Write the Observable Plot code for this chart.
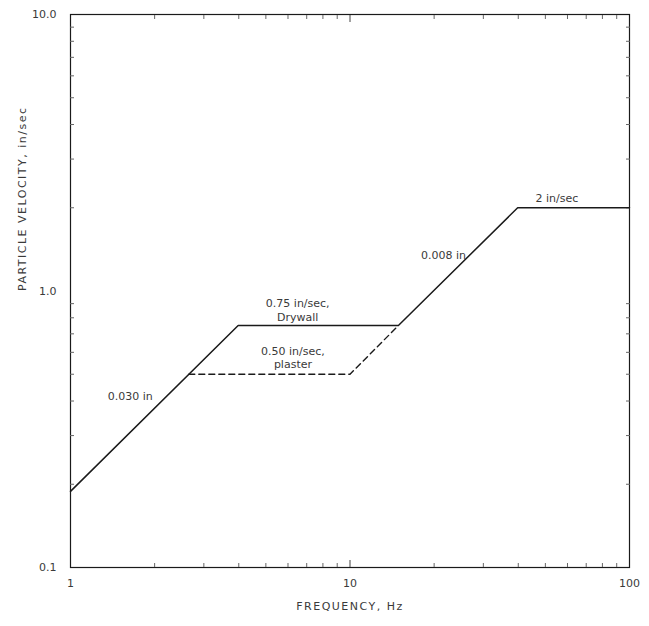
<!DOCTYPE html>
<html><head><meta charset="utf-8">
<script src="https://cdn.jsdelivr.net/npm/d3@7"></script>
<script src="https://cdn.jsdelivr.net/npm/@observablehq/plot@0.6"></script>
<style>body{margin:0;background:#fff;}</style>
</head><body><div id="chart"></div>
<script>
// Drywall criterion (solid): 0.030 in displacement, 0.75 in/sec, 0.008 in displacement, 2 in/sec
const drywallFreq = [1, 3.98, 14.9, 39.8, 100];
const drywallVel  = [0.1885, 0.75, 0.75, 2.0, 2.0];
// Plaster criterion (dashed)
const plasterFreq = [2.65, 10, 14.9];
const plasterVel  = [0.5, 0.5, 0.75];
// Annotations
const labelText = ["0.030 in", "0.75 in/sec,", "Drywall", "0.50 in/sec,", "plaster", "0.008 in", "2 in/sec"];
const labelFreq = [1.97, 6.5, 6.5, 6.25, 6.25, 26, 55];
const labelVel  = [0.415, 0.90, 0.80, 0.604, 0.542, 1.344, 2.16];
const labelAnchor = ["end", "middle", "middle", "middle", "middle", "end", "middle"];
// Axes
const xTicks = [1, 10, 100];
const xTickLabels = ["1", "10", "100"];
const yTicks = [0.1, 1, 10];
const yTickLabels = ["0.1", "1.0", "10.0"];
const xMinor = [2,3,4,5,6,7,8,9,20,30,40,50,60,70,80,90];
const yMinor = [0.2,0.3,0.4,0.5,0.6,0.7,0.8,0.9,2,3,4,5,6,7,8,9];
const xTitle = "FREQUENCY, Hz";
const yTitle = "PARTICLE VELOCITY, in/sec";

const drywall = drywallFreq.map((f, i) => ({f, v: drywallVel[i]}));
const plaster = plasterFreq.map((f, i) => ({f, v: plasterVel[i]}));
const labels = labelText.map((t, i) => ({t, f: labelFreq[i], v: labelVel[i], a: labelAnchor[i]}));
const xFmt = new Map(xTicks.map((d, i) => [d, xTickLabels[i]]));
const yFmt = new Map(yTicks.map((d, i) => [d, yTickLabels[i]]));

const ink = "#1a1a1a";
const txt = "#3a3a3a";

const chart = Plot.plot({
  width: 649,
  height: 626,
  marginLeft: 70,
  marginRight: 20,
  marginTop: 14,
  marginBottom: 59,
  style: {fontFamily: "DejaVu Sans", fontSize: "11px", color: txt, background: "#fff"},
  x: {type: "log", domain: [1, 100]},
  y: {type: "log", domain: [0.1, 10]},
  marks: [
    Plot.frame({stroke: ink, strokeWidth: 1.2}),
    // inner minor ticks
    Plot.axisY(yMinor, {anchor: "left", tickSize: -4, tickFormat: () => "", stroke: "#666", label: null}),
    Plot.axisY(yMinor, {anchor: "right", tickSize: -4, tickFormat: () => "", stroke: "#666", label: null}),
    Plot.axisX(xMinor, {anchor: "bottom", tickSize: -4, tickFormat: () => "", stroke: "#666", label: null}),
    Plot.axisX(xMinor, {anchor: "top", tickSize: -4, tickFormat: () => "", stroke: "#666", label: null}),
    Plot.axisX([10], {anchor: "top", tickSize: -7, tickFormat: () => "", stroke: "#444", label: null}),
    Plot.axisX([10], {anchor: "bottom", tickSize: -7, tickFormat: () => "", stroke: "#444", label: null}),
    // labelled axes
    Plot.axisX(xTicks, {anchor: "bottom", tickSize: 0, tickPadding: 12,
      tickFormat: d => xFmt.get(d), label: null}),
    Plot.axisY(yTicks, {anchor: "left", tickSize: 0, tickPadding: 14,
      tickFormat: d => yFmt.get(d), label: null}),
    // axis titles
    Plot.text([xTitle], {frameAnchor: "bottom", dy: 42, text: d => d, fill: txt, fontSize: 11, className: "ttl"}),
    Plot.text([yTitle], {frameAnchor: "left", dx: -48, rotate: -90, text: d => d, fill: txt, fontSize: 11, className: "ttl"}),
    // criteria lines
    Plot.line(drywall, {x: "f", y: "v", stroke: ink, strokeWidth: 1.5}),
    Plot.line(plaster, {x: "f", y: "v", stroke: ink, strokeWidth: 1.4, strokeDasharray: "6,4"}),
    // annotations
    Plot.text(labels.filter(d => d.a === "middle"), {x: "f", y: "v", text: "t", fill: txt, textAnchor: "middle", fontSize: 11}),
    Plot.text(labels.filter(d => d.a === "end"), {x: "f", y: "v", text: "t", fill: txt, textAnchor: "end", fontSize: 11})
  ]
});
d3.select(chart).selectAll(".ttl text").style("letter-spacing", "1.5px");
document.getElementById("chart").appendChild(chart);
</script>
</body></html>
